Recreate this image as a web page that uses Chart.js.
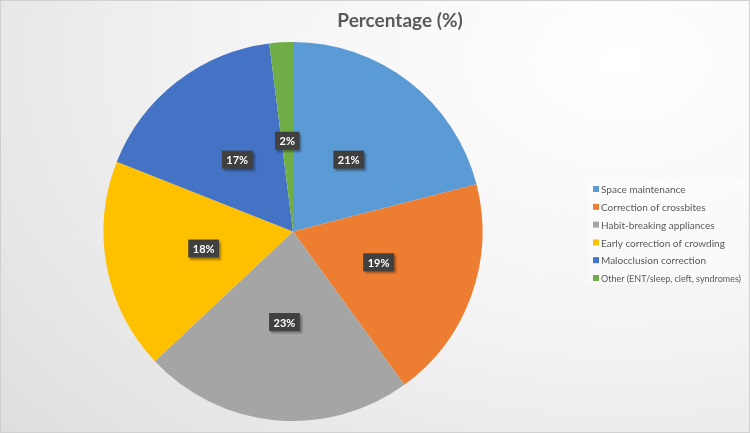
<!DOCTYPE html>
<html>
<head>
<meta charset="utf-8">
<script src="https://cdn.jsdelivr.net/npm/chart.js@4"></script>
<style>
  html, body { margin: 0; padding: 0; }
  body { width: 750px; height: 433px; overflow: hidden; }
  #wrap { position: relative; width: 748px; height: 431px; border: 1px solid #d0d0d0;
    background: radial-gradient(ellipse 900px 620px at 620px 60px, #ffffff 0%, #f3f3f3 45%, #dadada 100%); }
</style>
</head>
<body>
<div id="wrap"><canvas id="c" width="748" height="431"></canvas></div>
<script>
var categories = ["Space maintenance", "Correction of crossbites", "Habit-breaking appliances",
  "Early correction of crowding", "Malocclusion correction", "Other (ENT/sleep, cleft, syndromes)"];
var percentages = [21, 19, 23, 18, 17, 2];
var colors = ["#5B9BD5", "#ED7D31", "#A5A5A5", "#FFC000", "#4472C4", "#70AD47"];

// title, data labels and legend drawn by hand to sit where the original has them
var extras = {
  id: "extras",
  afterDraw: function(chart){
    var ctx = chart.ctx;
    ctx.save();
    // title
    ctx.fillStyle = "#595959";
    ctx.font = "bold 19px Lato, sans-serif";
    ctx.textAlign = "center";
    ctx.textBaseline = "middle";
    ctx.fillText("Percentage (%)", 399, 20);

    // data labels
    var meta = chart.getDatasetMeta(0);
    ctx.font = "bold 11px Lato, sans-serif";
    for (var i = 0; i < meta.data.length; i++){
      var arc = meta.data[i];
      var mid = (arc.startAngle + arc.endAngle) / 2;
      var r = arc.outerRadius * 0.48;
      var x = arc.x + Math.cos(mid) * r;
      var y = arc.y + Math.sin(mid) * r;
      var txt = percentages[i] + "%";
      var w = ctx.measureText(txt).width + 9;
      var h = 18;
      ctx.shadowColor = "rgba(0,0,0,0.35)";
      ctx.shadowOffsetX = 2;
      ctx.shadowOffsetY = 2;
      ctx.shadowBlur = 2;
      ctx.fillStyle = "#404040";
      ctx.fillRect(x - w / 2, y - h / 2, w, h);
      ctx.shadowColor = "transparent";
      ctx.fillStyle = "#ffffff";
      ctx.fillText(txt, x, y + 1);
    }

    // legend
    ctx.fillStyle = "rgba(255,255,255,0.35)";
    ctx.fillRect(587, 177, 158, 106);
    ctx.font = "10px Lato, sans-serif";
    ctx.textAlign = "left";
    for (var j = 0; j < categories.length; j++){
      var ly = 188 + j * 17.8;
      ctx.fillStyle = colors[j];
      ctx.fillRect(592, ly - 3, 6, 6);
      ctx.fillStyle = "#595959";
      ctx.fillText(categories[j], 600, ly + 1, 140);
    }
    ctx.restore();
  }
};

new Chart(document.getElementById("c"), {
  type: "pie",
  data: {
    labels: categories,
    datasets: [{ data: percentages, backgroundColor: colors, borderWidth: 0 }]
  },
  options: {
    responsive: false,
    animation: false,
    layout: { padding: { left: 102, right: 266, top: 41, bottom: 11 } },
    plugins: { legend: { display: false }, tooltip: { enabled: false } }
  },
  plugins: [extras]
});
</script>
</body>
</html>
